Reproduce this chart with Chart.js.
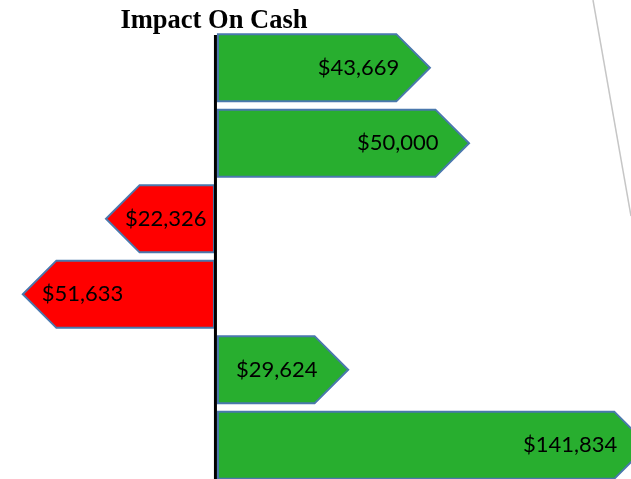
<!DOCTYPE html>
<html>
<head>
<meta charset="utf-8">
<script src="https://cdn.jsdelivr.net/npm/chart.js@4/dist/chart.umd.min.js"></script>
<style>
html,body{margin:0;padding:0;background:#fff;overflow:hidden}
#wrap{width:631px;height:479px;position:relative;overflow:hidden}
</style>
</head>
<body>
<div id="wrap"><canvas id="c" width="631" height="483"></canvas></div>
<script>
// ---- data ----
const chartTitle = 'Impact On Cash';
const categories = ['Item 1', 'Item 2', 'Item 3', 'Item 4', 'Item 5', 'Item 6'];
// dollar amounts printed on each arrow
const amounts = [43669, 50000, -22326, -51633, 29624, 141834];
// arrow tip as drawn in the picture (the arrows are not drawn to scale)
const arrowLengths = [43200, 51100, -22200, -39000, 26700, 87200];
// value axis range
const axisMin = -43600;
const axisMax = 83800;

const GREEN = '#28ae2f';
const RED = '#ff0000';
const EDGE = '#4a78ad';

function fmt(v) {
  return '$' + Math.abs(v).toLocaleString('en-US');
}

const arrowPlugin = {
  id: 'arrows',
  afterDatasetsDraw(chart) {
    const ctx = chart.ctx;
    const meta = chart.getDatasetMeta(0);
    const zero = chart.scales.x.getPixelForValue(0);
    ctx.save();
    meta.data.forEach((bar, i) => {
      const p = bar.getProps(['x', 'y', 'height'], true);
      const half = p.height / 2;
      const pos = arrowLengths[i] >= 0;
      const dir = pos ? 1 : -1;
      const base = zero + dir * 2;
      const neck = p.x - dir * half;
      ctx.beginPath();
      ctx.moveTo(base, p.y - half);
      ctx.lineTo(neck, p.y - half);
      ctx.lineTo(p.x, p.y);
      ctx.lineTo(neck, p.y + half);
      ctx.lineTo(base, p.y + half);
      ctx.closePath();
      ctx.fillStyle = pos ? GREEN : RED;
      ctx.fill();
      ctx.lineWidth = 2;
      ctx.strokeStyle = EDGE;
      ctx.lineJoin = 'miter';
      ctx.stroke();

      ctx.fillStyle = '#000';
      ctx.font = '22px Lato';
      ctx.textBaseline = 'middle';
      if (pos) {
        ctx.textAlign = 'right';
        ctx.fillText(fmt(amounts[i]), neck + 3, p.y);
      } else {
        ctx.textAlign = 'left';
        ctx.fillText(fmt(amounts[i]), p.x + 19, p.y);
      }
    });
    // zero axis line
    ctx.beginPath();
    ctx.strokeStyle = '#000';
    ctx.lineWidth = 3;
    ctx.moveTo(zero - 0.5, chart.chartArea.top + 5);
    ctx.lineTo(zero - 0.5, chart.height);
    ctx.stroke();
    ctx.restore();
  },
  afterDraw(chart) {
    const ctx = chart.ctx;
    const zero = chart.scales.x.getPixelForValue(0);
    ctx.save();
    ctx.fillStyle = '#000';
    ctx.font = 'bold 26.5px "Liberation Serif"';
    ctx.textAlign = 'center';
    ctx.textBaseline = 'alphabetic';
    ctx.fillText(chartTitle, zero - 2, 28);
    // stray light-grey guide line at the top right of the slide
    ctx.beginPath();
    ctx.strokeStyle = '#c6c6c6';
    ctx.lineWidth = 1.5;
    ctx.moveTo(chart.width - 38, 0);
    ctx.lineTo(chart.width, 216);
    ctx.stroke();
    ctx.restore();
  }
};

new Chart(document.getElementById('c'), {
  type: 'bar',
  data: {
    labels: categories,
    datasets: [{
      data: arrowLengths,
      backgroundColor: 'rgba(0,0,0,0)',
      borderWidth: 0,
      barPercentage: 0.89,
      categoryPercentage: 1.0
    }]
  },
  options: {
    indexAxis: 'y',
    responsive: false,
    devicePixelRatio: 1,
    animation: false,
    layout: { padding: { top: 30, bottom: 0, left: 0, right: 0 } },
    plugins: {
      legend: { display: false },
      tooltip: { enabled: false },
      title: { display: false }
    },
    scales: {
      x: { type: 'linear', min: axisMin, max: axisMax, display: false },
      y: { type: 'category', display: false }
    }
  },
  plugins: [arrowPlugin]
});
</script>
</body>
</html>
